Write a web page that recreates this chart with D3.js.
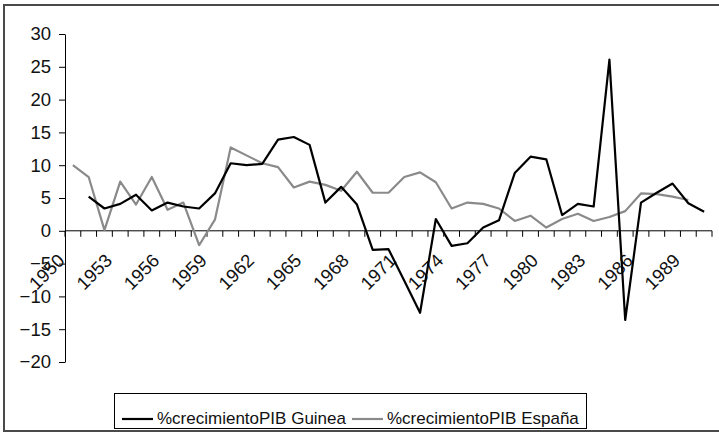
<!DOCTYPE html>
<html>
<head>
<meta charset="utf-8">
<script src="https://cdn.jsdelivr.net/npm/d3@7"></script>
<style>
  html, body { margin: 0; padding: 0; background: #fff; }
  svg { display: block; font-family: "Liberation Sans", Arial, sans-serif; }
</style>
</head>
<body>
<div id="chartContainer"></div>
<script>
// ---------- Data ----------
const years = d3.range(1950, 1991).map(String);

const guinea = [null, 5.2, 3.4, 4.1, 5.5, 3.1, 4.3, 3.7, 3.4, 5.7,
  10.3, 10.0, 10.2, 13.9, 14.3, 13.1, 4.3, 6.7, 4.0, -2.9,
  -2.8, -7.6, -12.5, 1.8, -2.3, -1.9, 0.5, 1.6, 8.8, 11.3,
  10.9, 2.4, 4.1, 3.7, 26.1, -13.6, 4.3, 5.8, 7.2, 4.2,
  2.9];

const espana = [10.0, 8.2, 0.1, 7.5, 4.0, 8.2, 3.2, 4.3, -2.2, 1.7,
  12.7, 11.5, 10.3, 9.7, 6.6, 7.5, 7.0, 6.1, 9.0, 5.8,
  5.8, 8.2, 8.9, 7.4, 3.4, 4.3, 4.1, 3.4, 1.5, 2.3,
  0.5, 1.8, 2.6, 1.5, 2.1, 3.0, 5.7, 5.6, 5.2, 4.7,
  null];

const yTicks = [-20, -15, -10, -5, 0, 5, 10, 15, 20, 25, 30];
const xTickLabels = ["1950", "1953", "1956", "1959", "1962", "1965", "1968",
  "1971", "1974", "1977", "1980", "1983", "1986", "1989"];

const seriesNames = ["%crecimientoPIB Guinea", "%crecimientoPIB España"];
const seriesColors = ["#000000", "#8a8a8a"];

// ---------- SVG ----------
const W = 719, H = 433;
const svg = d3.select("#chartContainer")
  .append("svg")
  .attr("width", W)
  .attr("height", H);

svg.append("rect")
  .attr("x", 4).attr("y", 5)
  .attr("width", 800).attr("height", 426)
  .attr("fill", "#fff")
  .attr("stroke", "#4a4a4a")
  .attr("stroke-width", 2);

// ---------- Scales ----------
const x = d3.scaleBand()
  .domain(years)
  .range([65, 712])
  .padding(0);

const y = d3.scaleLinear()
  .domain([-20, 30])
  .range([362, 34]);

const cx = d => x(d) + x.bandwidth() / 2;

// ---------- Y axis ----------
const yAxis = svg.append("g")
  .attr("transform", "translate(65,0)")
  .call(d3.axisLeft(y).tickValues(yTicks).tickSize(6).tickSizeOuter(0).tickPadding(8));
yAxis.select(".domain").attr("stroke", "#000");
yAxis.selectAll(".tick line").attr("stroke", "#000");
yAxis.selectAll(".tick text")
  .attr("font-size", 18.5)
  .attr("font-family", "Liberation Sans, Arial, sans-serif")
  .attr("fill", "#111");

// ---------- X axis (crosses at 0) ----------
const xAxis = svg.append("g");
xAxis.append("line")
  .attr("x1", x.range()[0]).attr("x2", x.range()[1])
  .attr("y1", y(0)).attr("y2", y(0))
  .attr("stroke", "#000");

xAxis.selectAll("line.tick")
  .data(years.concat(["end"]))
  .enter()
  .append("line")
  .attr("class", "tick")
  .attr("x1", d => d === "end" ? x.range()[1] : x(d))
  .attr("x2", d => d === "end" ? x.range()[1] : x(d))
  .attr("y1", y(0))
  .attr("y2", y(0) + 6)
  .attr("stroke", "#000");

xAxis.selectAll("text")
  .data(xTickLabels)
  .enter()
  .append("text")
  .attr("transform", d => `translate(${cx(d) - 7},${y(0) + 31}) rotate(-45)`)
  .attr("text-anchor", "end")
  .attr("font-size", 18.5)
  .attr("fill", "#111")
  .text(d => d);

// ---------- Lines ----------
const line = d3.line()
  .defined(d => d.v !== null)
  .x(d => cx(d.year))
  .y(d => y(d.v));

[espana, guinea].forEach((vals, k) => {
  const idx = k === 0 ? 1 : 0;
  svg.append("path")
    .datum(years.map((yr, i) => ({ year: yr, v: vals[i] })))
    .attr("fill", "none")
    .attr("stroke", seriesColors[idx])
    .attr("stroke-width", 2.2)
    .attr("stroke-linejoin", "round")
    .attr("d", line);
});

// ---------- Legend ----------
const legend = svg.append("g");
legend.append("rect")
  .attr("x", 114.5).attr("y", 393.5)
  .attr("width", 472).attr("height", 35)
  .attr("fill", "#fff")
  .attr("stroke", "#000");

const legendX = [122, 352];
seriesNames.forEach((name, i) => {
  legend.append("line")
    .attr("x1", legendX[i]).attr("x2", legendX[i] + 31)
    .attr("y1", 419).attr("y2", 419)
    .attr("stroke", seriesColors[i])
    .attr("stroke-width", 2.2);
  legend.append("text")
    .attr("x", legendX[i] + 35)
    .attr("y", 424)
    .attr("font-size", 17)
    .attr("fill", "#111")
    .text(name);
});
</script>
</body>
</html>
